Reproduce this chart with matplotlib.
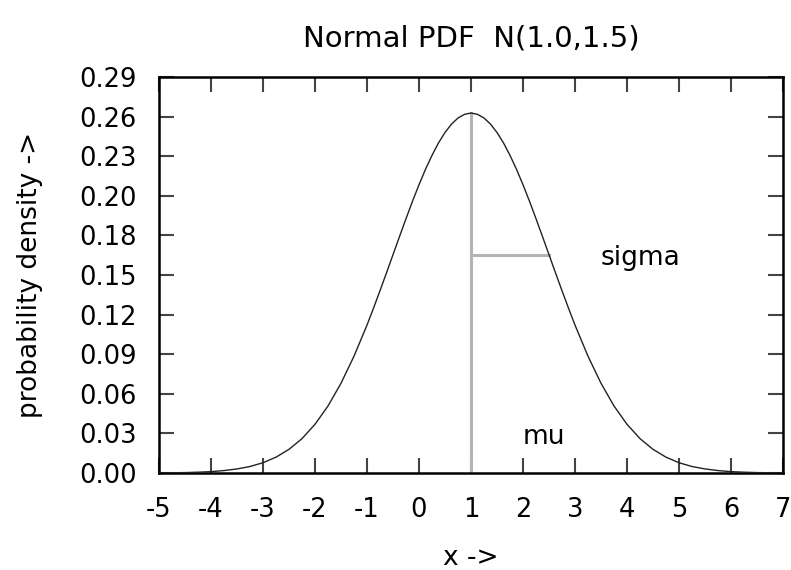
import matplotlib
matplotlib.use("Agg")
import matplotlib.pyplot as plt

plt.rcParams['font.family'] = ['DejaVu Sans']

# density values; finer steps near the peak
x_half = [0, 0.125, 0.25, 0.375, 0.5, 0.625, 0.75, 0.875, 1.0, 1.125,
          1.25, 1.375, 1.5, 1.625, 1.75, 1.875, 2.0, 2.25, 2.5, 2.75, 3.0,
          3.25, 3.5, 3.75, 4.0, 4.25, 4.5, 4.75, 5.0, 5.25, 5.5, 5.75, 6.0]
y_half = [0.2660, 0.2650, 0.2623, 0.2578, 0.2516, 0.2439, 0.2347, 0.2244,
          0.2130, 0.2008, 0.1879, 0.1747, 0.1613, 0.1479, 0.1347, 0.1218,
          0.1093, 0.0863, 0.0663, 0.0495, 0.0360, 0.0254, 0.0175, 0.0117,
          0.0076, 0.0048, 0.0030, 0.0018, 0.0010, 0.0006, 0.0003, 0.0002,
          0.0001]

mu = 1.0
sigma = 1.5
peak = 0.2660
sigma_y = 0.1613

x_vals = [mu - d for d in x_half[:0:-1]] + [mu + d for d in x_half]
density = y_half[:0:-1] + y_half

ymax = 0.2926
xticks = list(range(-5, 8))
yticks = [ymax * k / 10 for k in range(11)]
ytick_labels = ['0.00', '0.03', '0.06', '0.09', '0.12', '0.15', '0.18',
                '0.20', '0.23', '0.26', '0.29']

fig = plt.figure(figsize=(7.91, 5.70), dpi=100)
ax = fig.add_axes([159 / 791, 1 - 473 / 570, 624 / 791, 396 / 570])

gray = '#b4b4b4'
ax.plot([mu, mu], [0, peak], color=gray, lw=2.2, zorder=2)
ax.plot([mu, mu + sigma], [sigma_y, sigma_y], color=gray, lw=2.2, zorder=2)
ax.plot(x_vals, density, color='#222222', lw=1.0, zorder=3)

ax.text(3.5, 0.159, 'sigma', fontsize=19, va='center', ha='left')
ax.text(2.0, 0.0266, 'mu', fontsize=19, va='center', ha='left')

ax.set_xlim(-5, 7)
ax.set_ylim(0, ymax)
ax.set_xticks(xticks)
ax.set_xticklabels([str(t) for t in xticks])
ax.set_yticks(yticks)
ax.set_yticklabels(ytick_labels)
ax.tick_params(direction='in', length=11, width=1.5, color='#444444',
               labelsize=18.5, top=True, right=True)
ax.tick_params(axis='x', pad=17)
ax.tick_params(axis='y', pad=16)
for s in ax.spines.values():
    s.set_linewidth(1.8)

ax.set_title('Normal PDF  N(1.0,1.5)', fontsize=21, y=1 + 39 / 396,
             va='center', pad=0)
ax.set_xlabel('x ->', fontsize=19, va='center')
ax.xaxis.set_label_coords(0.5, -(558 - 473) / 396)
ax.set_ylabel('probability density ->', fontsize=19, va='center')
ax.yaxis.set_label_coords(-(159 - 30) / 624, 0.5)

fig.savefig('out.png', dpi=100)
